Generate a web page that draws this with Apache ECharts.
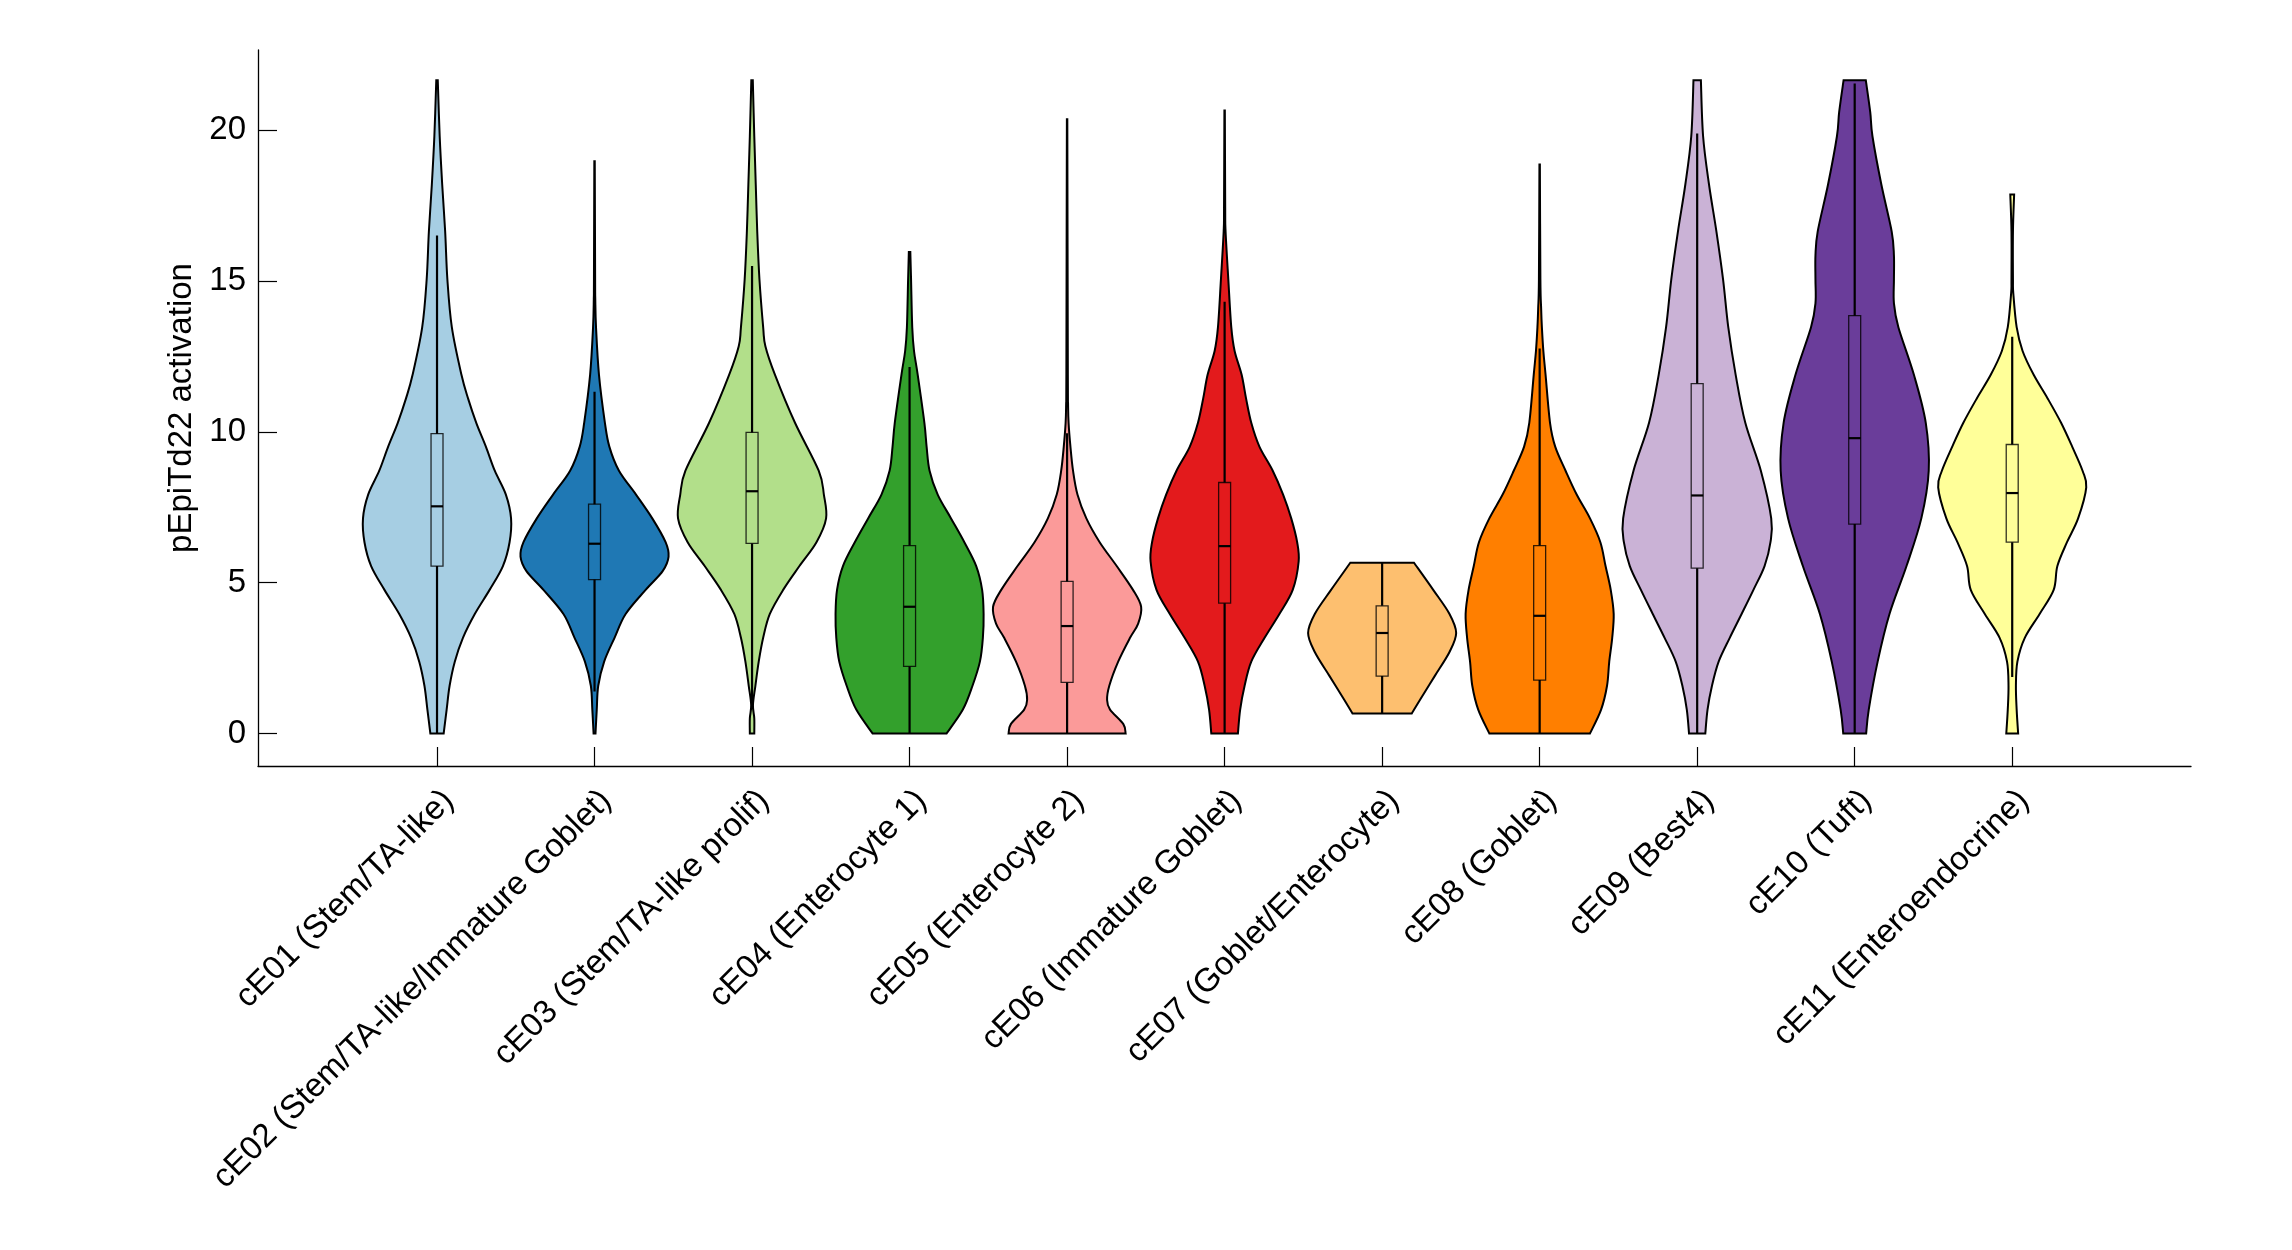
<!DOCTYPE html>
<html><head><meta charset="utf-8">
<script src="https://cdn.jsdelivr.net/npm/echarts@6/dist/echarts.min.js"></script>
<style>html,body{margin:0;padding:0;background:#fff}#c{width:2292px;height:1250px}</style>
</head><body><div id="c"></div>
<script>
const categories = [
  'cE01 (Stem/TA-like)', 'cE02 (Stem/TA-like/Immature Goblet)', 'cE03 (Stem/TA-like prolif)',
  'cE04 (Enterocyte 1)', 'cE05 (Enterocyte 2)', 'cE06 (Immature Goblet)', 'cE07 (Goblet/Enterocyte)',
  'cE08 (Goblet)', 'cE09 (Best4)', 'cE10 (Tuft)', 'cE11 (Enteroendocrine)'
];
const colors = ['#a6cee3','#1f78b4','#b2df8a','#33a02c','#fb9a99','#e31a1c','#fdbf6f','#ff7f00','#cab2d6','#6a3d9a','#ffff99'];
const yTicks = [0, 5, 10, 15, 20];
const xTicks = [1,2,3,4,5,6,7,8,9,10,11];

// violin density profiles: activation value (y) and relative half-width (w)
const cE01_y = [0, .79, 1.58, 2.38, 3.17, 3.96, 4.76, 5.55, 6.34, 7.13, 7.92, 8.71, 9.51, 10.3, 11.1, 11.89, 13.47, 15.05, 16.64, 18.2, 19.8, 21.66];
const cE01_w = [.09, .13, .17, .24, .35, .51, .71, .89, .98, 1.0, .93, .78, .66, .53, .42, .33, .2, .14, .11, .07, .036, .01];
const cE02_y = [0, .79, 1.58, 2.38, 3.17, 3.96, 4.76, 5.38, 5.86, 6.34, 7.13, 7.92, 8.71, 9.51, 10.3, 11.89, 13.47, 14.4, 15.05, 18.97];
const cE02_w = [.013, .03, .05, .13, .27, .42, .69, .92, 1.0, .96, .78, .56, .33, .2, .14, .06, .02, .01, .008, .003];
const cE03_y = [0, .5, .94, 1.58, 2.38, 3.17, 3.96, 4.76, 5.55, 6.34, 7.13, 7.92, 8.71, 10.3, 11.89, 12.84, 13.47, 15.05, 16.64, 18.2, 19.8, 21.66];
const cE03_w = [.03, .03, .012, .045, .09, .15, .24, .42, .64, .87, 1.0, .97, .9, .58, .31, .18, .15, .1, .07, .05, .03, .01];
const cE04_y = [0, .79, 1.58, 2.38, 3.17, 3.96, 4.76, 5.55, 6.34, 7.13, 7.92, 8.71, 9.51, 10.3, 11.89, 12.68, 13.47, 15.05, 15.96];
const cE04_w = [.5, .72, .85, .95, .99, 1.0, .98, .9, .74, .56, .38, .27, .23, .2, .11, .06, .036, .02, .01];
const cE05_y = [0, .31, .79, 1.11, 1.58, 2.38, 3.17, 3.64, 4.2, 4.76, 5.55, 6.34, 7.13, 7.92, 8.71, 9.51, 10.3, 10.93, 11.89, 20.36];
const cE05_w = [.79, .76, .58, .54, .57, .69, .85, .96, 1.0, .89, .67, .44, .26, .14, .08, .045, .02, .013, .01, .003];
const cE06_y = [0, .79, 1.58, 2.38, 3.17, 3.96, 4.76, 5.7, 6.34, 7.13, 7.92, 8.71, 9.51, 10.3, 11.1, 11.89, 12.68, 13.47, 15.05, 16.64, 17.43, 20.65];
const cE06_w = [.18, .21, .27, .36, .54, .74, .92, 1.0, .98, .9, .79, .65, .47, .36, .29, .23, .135, .09, .05, .013, .008, .003];
const cE07_y = [.66, 1.11, 1.9, 2.7, 3.33, 3.96, 4.76, 5.66];
const cE07_w = [.4, .51, .71, .91, 1.0, .91, .69, .43];
const cE08_y = [0, .79, 1.58, 2.38, 3.17, 3.96, 4.76, 5.55, 6.34, 7.13, 7.92, 8.71, 9.51, 10.3, 11.89, 12.68, 13.47, 14.1, 15.05, 18.86];
const cE08_w = [.68, .83, .91, .94, .98, 1.0, .96, .89, .82, .68, .5, .35, .21, .14, .08, .05, .03, .02, .01, .003];
const cE09_y = [0, .79, 1.58, 2.38, 3.17, 3.96, 4.76, 5.55, 6.34, 7.13, 8.71, 10.3, 11.89, 13.47, 15.05, 16.64, 18.2, 19.8, 21.66];
const cE09_w = [.11, .14, .2, .29, .44, .6, .76, .91, .99, 1.0, .86, .65, .52, .42, .35, .26, .16, .08, .05];
const cE10_y = [0, .79, 2.38, 3.96, 5.55, 7.13, 8.71, 10.3, 11.89, 13.47, 14.26, 15.05, 15.85, 16.64, 18.2, 19.8, 20.6, 21.66];
const cE10_w = [.155, .19, .31, .47, .7, .9, 1.0, .96, .8, .59, .53, .53, .53, .5, .36, .24, .21, .15];
const cE11_y = [0, .79, 1.58, 2.38, 3.17, 3.96, 4.76, 5.55, 6.34, 7.13, 8.16, 8.71, 9.51, 10.3, 11.1, 11.89, 12.68, 13.47, 14.58, 15.05, 16.64, 17.87];
const cE11_w = [.08, .06, .05, .07, .17, .37, .56, .61, .74, .89, 1.0, .95, .81, .66, .48, .29, .14, .06, .015, .01, .01, .026];

// box plot statistics
const q1        = [5.55, 5.10, 6.30, 2.22, 1.69, 4.32, 1.90, 1.77, 5.48, 6.94, 6.34];
const median    = [7.53, 6.29, 8.03, 4.20, 3.56, 6.21, 3.33, 3.90, 7.89, 9.79, 7.97];
const q3        = [9.94, 7.60, 9.98, 6.23, 5.04, 8.32, 4.23, 6.23, 11.60, 13.85, 9.58];
const whiskerLo = [0, 1.39, 0.88, 0, 0, 0, 0.66, 0, 0, 0, 1.87];
const whiskerHi = [16.51, 11.33, 15.50, 12.15, 9.95, 14.31, 5.66, 12.76, 19.89, 21.55, 13.15];

const profY = [cE01_y, cE02_y, cE03_y, cE04_y, cE05_y, cE06_y, cE07_y, cE08_y, cE09_y, cE10_y, cE11_y];
const profW = [cE01_w, cE02_w, cE03_w, cE04_w, cE05_w, cE06_w, cE07_w, cE08_w, cE09_w, cE10_w, cE11_w];

const HALF = 0.47;     // max violin half-width in category units
const BOXHALF = 0.038; // box half-width in category units
const FONT = 'Liberation Sans, Arial, Helvetica, sans-serif';

function curve(pts) {
  // Catmull-Rom spline through pixel points, as cubic Bezier path commands
  let d = '';
  for (let i = 0; i < pts.length - 1; i++) {
    const p0 = pts[i - 1] || pts[i], p1 = pts[i], p2 = pts[i + 1], p3 = pts[i + 2] || pts[i + 1];
    const c1 = [p1[0] + (p2[0] - p0[0]) / 6, p1[1] + (p2[1] - p0[1]) / 6];
    const c2 = [p2[0] - (p3[0] - p1[0]) / 6, p2[1] - (p3[1] - p1[1]) / 6];
    d += ' C' + c1[0].toFixed(2) + ',' + c1[1].toFixed(2) + ' ' + c2[0].toFixed(2) + ',' + c2[1].toFixed(2) + ' ' + p2[0].toFixed(2) + ',' + p2[1].toFixed(2);
  }
  return d;
}

function renderItem(params, api) {
  const i = params.dataIndex;
  const x = api.value(0);
  const ys = profY[i], ws = profW[i];
  const right = ys.map((y, k) => api.coord([x + HALF * ws[k], y]));
  const left = ys.map((y, k) => api.coord([x - HALF * ws[k], y])).reverse();
  let d = 'M' + right[0][0].toFixed(2) + ',' + right[0][1].toFixed(2) + curve(right);
  d += ' L' + left[0][0].toFixed(2) + ',' + left[0][1].toFixed(2) + curve(left) + ' Z';
  const wLo = api.coord([x, whiskerLo[i]]), wHi = api.coord([x, whiskerHi[i]]);
  const bTL = api.coord([x - BOXHALF, q3[i]]), bBR = api.coord([x + BOXHALF, q1[i]]);
  const mL = api.coord([x - BOXHALF, median[i]]), mR = api.coord([x + BOXHALF, median[i]]);
  return {
    type: 'group',
    children: [
      { type: 'path', shape: { pathData: d }, style: { fill: colors[i], stroke: '#000', lineWidth: 2 } },
      { type: 'line', shape: { x1: wLo[0], y1: wLo[1], x2: wHi[0], y2: wHi[1] }, style: { stroke: '#000', lineWidth: 2.2 } },
      { type: 'rect', shape: { x: bTL[0], y: bTL[1], width: bBR[0] - bTL[0], height: bBR[1] - bTL[1] },
        style: { fill: colors[i], stroke: 'rgba(0,0,0,0.8)', lineWidth: 1.3 } },
      { type: 'line', shape: { x1: mL[0], y1: mL[1], x2: mR[0], y2: mR[1] }, style: { stroke: '#000', lineWidth: 2.2 } }
    ]
  };
}

const chart = echarts.init(document.getElementById('c'), null, { renderer: 'canvas' });
chart.setOption({
  animation: false,
  backgroundColor: '#fff',
  textStyle: { fontFamily: FONT },
  grid: { left: 258, right: 101, top: 50, bottom: 484, containLabel: false },
  xAxis: {
    type: 'value', min: -0.1365, max: 12.135,
    axisLine: { onZero: false, lineStyle: { color: '#000', width: 1.3 } },
    axisTick: { show: true, inside: true, length: 19, customValues: xTicks, lineStyle: { color: '#000', width: 1.2 } },
    axisLabel: {
      customValues: xTicks, rotate: 45, align: 'right', verticalAlign: 'top', margin: 18,
      fontSize: 33, color: '#000', fontFamily: FONT,
      formatter: v => categories[Math.round(v) - 1] || ''
    },
    splitLine: { show: false }
  },
  yAxis: {
    type: 'value', min: -1.08, max: 22.66,
    name: 'pEpiTd22 activation', nameLocation: 'middle', nameGap: 58,
    nameTextStyle: { fontSize: 33, color: '#000', fontFamily: FONT },
    axisLine: { show: true, onZero: false, lineStyle: { color: '#000', width: 1.3 } },
    axisTick: { show: true, inside: true, length: 19, customValues: yTicks, lineStyle: { color: '#000', width: 1.2 } },
    axisLabel: { customValues: yTicks, fontSize: 33, color: '#000', margin: 12, fontFamily: FONT },
    splitLine: { show: false }
  },
  series: [{
    type: 'custom',
    renderItem: renderItem,
    clip: false,
    data: xTicks.map(v => [v])
  }]
});
</script></body></html>
